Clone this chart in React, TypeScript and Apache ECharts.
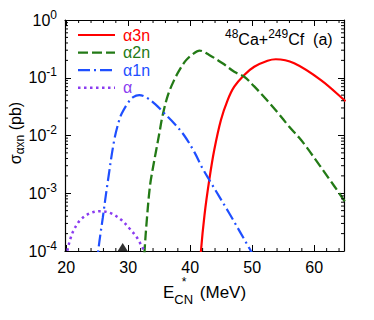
import React, { useEffect, useRef } from "react";
import * as echarts from "echarts";

// ---- data ----
const alpha3n: [number, number][] = [
  [41.6, 5.0e-5], [41.73, 1.0e-4], [42.3, 4.2e-4], [43.07, 1.7e-3], [43.87, 5.6e-3],
  [44.95, 1.86e-2], [46.02, 4.07e-2], [47.1, 7.0e-2], [48.71, 0.112], [50.32, 0.155],
  [52.47, 0.197], [53.8, 0.209], [56.77, 0.178], [61.08, 0.091], [64.84, 0.041], [65.0, 0.039],
];
const alpha2n: [number, number][] = [
  [32.5, 5.0e-5], [32.63, 1.0e-4], [33.0, 3.5e-4], [33.5, 1.32e-3], [34.0, 2.82e-3],
  [34.5, 5.5e-3], [35.0, 1.07e-2], [35.53, 2.19e-2], [36.4, 5.0e-2], [37.4, 9.1e-2],
  [38.3, 0.138], [39.3, 0.2], [40.3, 0.251], [41.5, 0.295], [43.06, 0.248], [45.21, 0.178],
  [47.1, 0.127], [48.71, 0.104], [50.32, 0.0708], [52.21, 0.0427], [54.08, 0.0251],
  [55.9, 0.0145], [57.58, 9.1e-3], [58.66, 6.5e-3], [60.81, 3.1e-3], [62.4, 1.78e-3],
  [64.03, 1.0e-3], [65.0, 7.0e-4],
];
const alpha1n: [number, number][] = [
  [25.0, 5.0e-5], [25.16, 1.0e-4], [25.9, 3.8e-4], [26.66, 1.48e-3], [27.74, 8.3e-3],
  [28.55, 1.86e-2], [28.95, 2.4e-2], [29.9, 3.6e-2], [30.8, 4.6e-2], [31.77, 5.0e-2],
  [33.0, 4.5e-2], [34.47, 3.4e-2], [35.53, 2.6e-2], [37.42, 1.62e-2], [39.03, 1.0e-2],
  [40.65, 5.2e-3], [41.98, 2.7e-3], [43.07, 1.7e-3], [46.29, 4.5e-4], [49.79, 1.0e-4],
  [50.0, 9.2e-5],
];
const alpha0n: [number, number][] = [
  [20.0, 8.0e-5], [20.16, 1.0e-4], [20.69, 1.66e-4], [21.34, 2.45e-4], [22.31, 3.47e-4],
  [23.76, 4.47e-4], [25.53, 4.9e-4], [27.26, 4.47e-4], [28.87, 3.47e-4], [30.21, 2.45e-4],
  [31.29, 1.78e-4], [32.1, 1.26e-4], [32.58, 1.0e-4], [32.7, 9.0e-5],
];
const markerPoint: [number, number][] = [[29.1, 1.0e-4]];

const seriesNames = ["α3n", "α2n", "α1n", "α"];
const seriesColors = ["#ff0000", "#237a16", "#1f4fff", "#8a3cf0"];

const xMin = 19.8;
const xMax = 64.8;
const yMin = 1e-4;
const yMax = 1;
const xMajorTicks = [20, 30, 40, 50, 60];
const xMinorTicks = [22, 24, 26, 28, 32, 34, 36, 38, 42, 44, 46, 48, 52, 54, 56, 58, 62, 64];
const yMinorMantissas = [2, 3, 4, 5, 6, 7, 8, 9];
const yDecades = [-4, -3, -2, -1];

const FONT = "'Liberation Sans', Arial, Helvetica, sans-serif";

export default function App() {
  const ref = useRef<HTMLDivElement>(null);

  useEffect(() => {
    if (!ref.current) return;
    const chart = echarts.init(ref.current, undefined, { renderer: "svg" });

    const yMinorTicks: number[] = [];
    yDecades.forEach((d) => yMinorMantissas.forEach((m) => yMinorTicks.push(m * Math.pow(10, d))));

    const dashes: (number[] | null)[] = [null, [10, 4], [12, 4, 2, 4], [2.5, 3.5]];
    const widths = [2.2, 2.3, 2.2, 2.5];
    const dataSets = [alpha3n, alpha2n, alpha1n, alpha0n];

    const axisLine = { show: true, onZero: false, lineStyle: { color: "#000", width: 1.2 } };
    const majorTick = { show: true, inside: true, length: 6, lineStyle: { color: "#000", width: 1 } };

    const lineSeries = seriesNames.map((name, i) => ({
      name,
      type: "line",
      data: dataSets[i],
      smooth: 0.35,
      symbol: "none",
      showSymbol: false,
      clip: true,
      itemStyle: { color: seriesColors[i] },
      lineStyle: { color: seriesColors[i], width: widths[i], type: dashes[i] || "solid", cap: "butt" },
      z: 3,
    }));

    // hand-drawn legend (line samples + coloured labels)
    const legendGraphics: any[] = [];
    seriesNames.forEach((name, i) => {
      const y = 35 + i * 17.6;
      legendGraphics.push({
        type: "line",
        shape: { x1: 78, y1: y, x2: 115, y2: y },
        style: { stroke: seriesColors[i], lineWidth: widths[i], lineDash: dashes[i] || null, lineCap: "butt" },
        silent: true,
      });
      legendGraphics.push({
        type: "text",
        x: 123,
        y,
        style: { text: name, fontSize: 16, fontFamily: FONT, fill: seriesColors[i], verticalAlign: "middle", align: "left" },
        silent: true,
      });
    });

    const option: any = {
      animation: false,
      backgroundColor: "#fff",
      textStyle: { fontFamily: FONT },
      grid: { left: 65, right: 30, top: 20, bottom: 69, containLabel: false, outerBoundsMode: "none" },
      xAxis: [
        {
          type: "value", min: xMin, max: xMax, position: "bottom",
          axisLine, axisTick: { ...majorTick, customValues: xMajorTicks },
          axisLabel: { customValues: xMajorTicks, color: "#000", fontSize: 16, fontFamily: FONT, margin: 8 },
          splitLine: { show: false },
        },
        {
          type: "value", min: xMin, max: xMax, position: "top",
          axisLine, axisTick: { ...majorTick, customValues: xMajorTicks },
          axisLabel: { show: false }, splitLine: { show: false },
        },
      ],
      yAxis: [
        {
          type: "log", logBase: 10, min: yMin, max: yMax, position: "left",
          axisLine, axisTick: majorTick, splitLine: { show: false },
          axisLabel: {
            margin: 8,
            formatter: (v: number) => `{b|10}{s|${Math.round(Math.log10(v))}}`,
            rich: {
              b: { fontSize: 16, fontFamily: FONT, color: "#000" },
              s: { fontSize: 12, fontFamily: FONT, color: "#000", padding: [0, 0, 11, 0] },
            },
          },
        },
        {
          type: "log", logBase: 10, min: yMin, max: yMax, position: "right",
          axisLine, axisTick: majorTick, splitLine: { show: false }, axisLabel: { show: false },
        },
      ],
      graphic: [
        ...legendGraphics,
        {
          type: "text", x: 15, y: 133, rotation: Math.PI / 2,
          style: {
            text: "{n|σ}{sub|αxn}{n| (pb)}",
            align: "center", verticalAlign: "middle",
            rich: {
              n: { fontSize: 16, fontFamily: FONT, fill: "#000" },
              sub: { fontSize: 12, fontFamily: FONT, fill: "#000", padding: [10, 0, 0, 0] },
            },
          },
        },
        {
          type: "text", x: 163, y: 292,
          style: {
            text: "{n|E}{sub|CN}{m| (MeV)}",
            verticalAlign: "middle", align: "left",
            rich: {
              n: { fontSize: 17, fontFamily: FONT, fill: "#000" },
              sub: { fontSize: 13, fontFamily: FONT, fill: "#000", padding: [15, 0, 0, 0] },
              m: { fontSize: 17, fontFamily: FONT, fill: "#000", padding: [0, 0, 0, 2] },
            },
          },
        },
        {
          type: "text", x: 184, y: 282,
          style: {
            text: "*", fontSize: 12, lineHeight: 8, fontFamily: FONT, fill: "#000",
            align: "center", verticalAlign: "middle",
          },
        },
        {
          type: "text", x: 225, y: 39,
          style: {
            text: "{s|48}{n|Ca+}{s|249}{n|Cf  (a)}",
            verticalAlign: "middle", align: "left",
            rich: {
              n: { fontSize: 16, fontFamily: FONT, fill: "#000" },
              s: { fontSize: 12, fontFamily: FONT, fill: "#000", padding: [0, 0, 11, 0] },
            },
          },
        },
      ],
      series: [
        ...lineSeries,
        {
          type: "scatter", data: markerPoint, symbol: "triangle", symbolSize: [10, 8],
          symbolOffset: [0, -4], itemStyle: { color: "#000" }, clip: false, z: 5, silent: true,
        },
        {
          type: "custom", silent: true, clip: false, z: 4,
          data: yMinorTicks.map((v) => [xMin, v]),
          renderItem: (_p: any, api: any) => {
            const v = api.value(1);
            const l = api.coord([xMin, v]);
            const r = api.coord([xMax, v]);
            const st = { stroke: "#000", lineWidth: 1 };
            return {
              type: "group",
              children: [
                { type: "line", shape: { x1: l[0], y1: l[1], x2: l[0] + 3, y2: l[1] }, style: st },
                { type: "line", shape: { x1: r[0], y1: r[1], x2: r[0] - 3, y2: r[1] }, style: st },
              ],
            };
          },
        },
        {
          type: "custom", silent: true, clip: false, z: 4,
          data: xMinorTicks.map((v) => [v, yMin]),
          renderItem: (_p: any, api: any) => {
            const v = api.value(0);
            const b = api.coord([v, yMin]);
            const t = api.coord([v, yMax]);
            const st = { stroke: "#000", lineWidth: 1 };
            return {
              type: "group",
              children: [
                { type: "line", shape: { x1: b[0], y1: b[1], x2: b[0], y2: b[1] - 3 }, style: st },
                { type: "line", shape: { x1: t[0], y1: t[1], x2: t[0], y2: t[1] + 3 }, style: st },
              ],
            };
          },
        },
      ],
    };

    chart.setOption(option);
    return () => chart.dispose();
  }, []);

  return (
    <div
      ref={ref}
      style={{ position: "fixed", left: 0, top: 0, width: 374, height: 320, background: "#fff" }}
    />
  );
}
